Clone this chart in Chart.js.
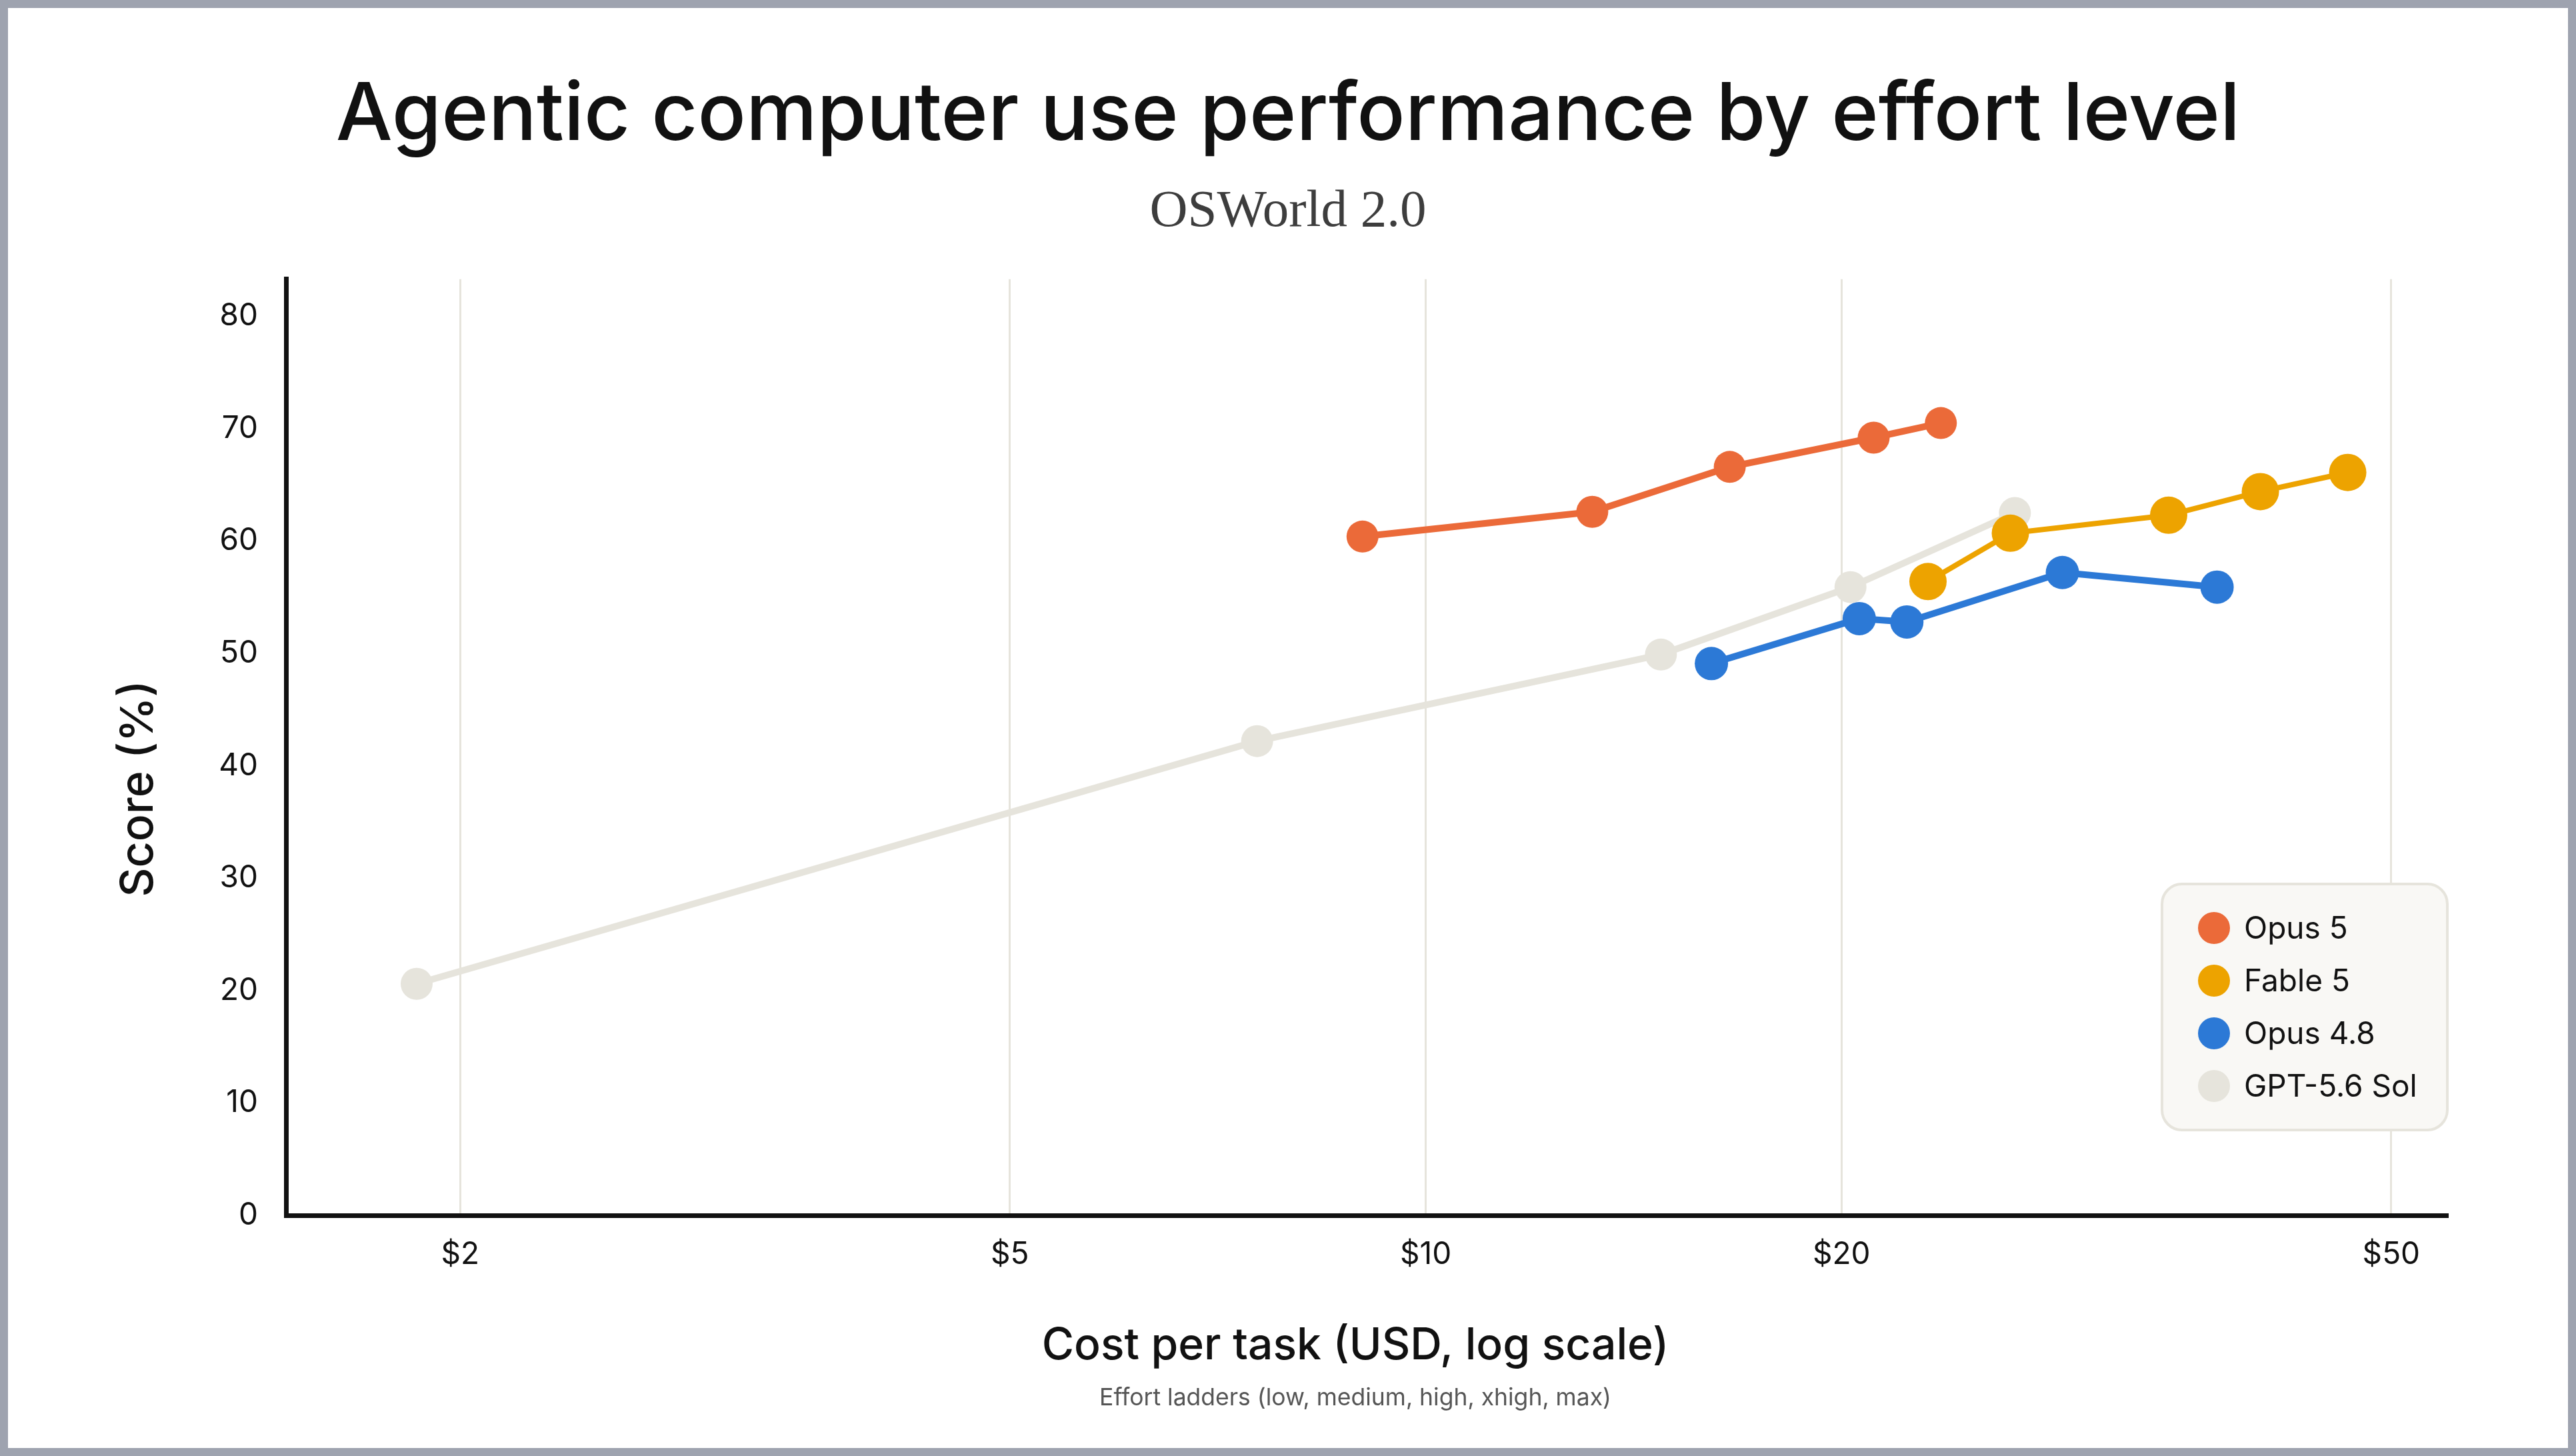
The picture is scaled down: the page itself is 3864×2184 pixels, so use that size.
<!DOCTYPE html>
<html>
<head>
<meta charset="utf-8">
<script src="https://cdn.jsdelivr.net/npm/chart.js"></script>
<style>
  html, body { margin: 0; padding: 0; background: #fff; }
  #frame {
    width: 3864px; height: 2184px; box-sizing: border-box;
    border: 12px solid #9EA3AF; background: #fff;
  }
  #frame canvas { display: block; }
</style>
</head>
<body>
<div id="frame"><canvas id="chart" width="3840" height="2160"></canvas></div>
<script>
// Agentic computer use - OSWorld 2.0, score vs cost per task
const seriesNames = ['Opus 5', 'Fable 5', 'Opus 4.8', 'GPT-5.6 Sol'];
const seriesColors = ['#EB6A39', '#EDA300', '#2C79D6', '#E6E4DC'];

const opus5Cost = [9.0, 13.2, 16.6, 21.1, 23.6];
const opus5Score = [60.4, 62.6, 66.6, 69.2, 70.5];
const fable5Cost = [23.1, 26.5, 34.5, 40.2, 46.5];
const fable5Score = [56.4, 60.7, 62.3, 64.4, 66.1];
const opus48Cost = [16.1, 20.6, 22.3, 28.9, 37.4];
const opus48Score = [49.1, 53.1, 52.8, 57.2, 55.9];
const gptCost = [1.86, 7.55, 14.8, 20.3, 26.7];
const gptScore = [20.6, 42.2, 49.9, 55.9, 62.5];

const xTicks = [2, 5, 10, 20, 50];
const yTicks = [0, 10, 20, 30, 40, 50, 60, 70, 80];

const FONT = 'Inter';
const INK = '#111111';

function pts(xs, ys) {
    return xs.map((x, i) => ({ x: x, y: ys[i] }));
}

function makeSet(i, xs, ys, radius, width) {
    return {
        label: seriesNames[i],
        data: pts(xs, ys),
        borderColor: seriesColors[i],
        backgroundColor: seriesColors[i],
        pointBackgroundColor: seriesColors[i],
        pointBorderWidth: 0,
        pointRadius: radius,
        pointHoverRadius: radius,
        borderWidth: width,
        tension: 0
    };
}

// rounded legend card in the lower right of the plot
const legendCard = {
    id: 'legendCard',
    afterDraw(chart) {
        const ctx = chart.ctx;
        const area = chart.chartArea;
        const w = 428, h = 369;
        const x = area.right - w, y = area.bottom - 128 - h;
        ctx.save();
        ctx.beginPath();
        ctx.roundRect(x, y, w, h, 30);
        ctx.fillStyle = '#F9F8F5';
        ctx.fill();
        ctx.lineWidth = 4;
        ctx.strokeStyle = '#E6E4DC';
        ctx.stroke();
        ctx.font = '400 46px ' + FONT;
        ctx.textBaseline = 'middle';
        ctx.textAlign = 'left';
        chart.data.datasets.forEach((ds, i) => {
            const cy = y + 66 + i * 79;
            ctx.beginPath();
            ctx.arc(x + 78, cy, 24, 0, Math.PI * 2);
            ctx.fillStyle = ds.borderColor;
            ctx.fill();
            ctx.fillStyle = INK;
            ctx.fillText(ds.label, x + 123, cy + 2);
        });
        ctx.restore();
    }
};

// axis titles and the small note under the x title
const axisText = {
    id: 'axisText',
    afterDraw(chart) {
        const ctx = chart.ctx;
        const area = chart.chartArea;
        const sx = chart.scales.x;
        const midX = (area.left + area.right) / 2 - 17;
        ctx.save();
        ctx.textAlign = 'center';
        ctx.textBaseline = 'middle';
        ctx.fillStyle = INK;
        ctx.font = '500 66px ' + FONT;
        ctx.fillText('Cost per task (USD, log scale)', midX, sx.bottom - 46);

        ctx.font = '400 35.5px ' + FONT;
        ctx.fillStyle = '#555555';
        ctx.fillText('Effort ladders (low, medium, high, xhigh, max)', midX, sx.bottom + 32);

        ctx.translate(area.left - 220, (area.top + area.bottom) / 2 + 62);
        ctx.rotate(-Math.PI / 2);
        ctx.font = '500 68px ' + FONT;
        ctx.fillStyle = INK;
        ctx.fillText('Score (%)', 0, 0);
        ctx.restore();
    }
};

new Chart(document.getElementById('chart').getContext('2d'), {
    type: 'line',
    data: {
        datasets: [
            makeSet(0, opus5Cost, opus5Score, 24, 10),
            makeSet(1, fable5Cost, fable5Score, 28, 8),
            makeSet(2, opus48Cost, opus48Score, 25, 10),
            makeSet(3, gptCost, gptScore, 24, 10)
        ]
    },
    options: {
        responsive: false,
        animation: false,
        devicePixelRatio: 1,
        layout: { padding: { top: 0, left: 181, right: 181, bottom: 107 } },
        plugins: {
            legend: { display: false },
            tooltip: { enabled: false },
            title: {
                display: true,
                text: 'Agentic computer use performance by effort level',
                color: INK,
                font: { family: FONT, size: 120, weight: '500' },
                padding: { top: 90, bottom: 0 }
            },
            subtitle: {
                display: true,
                text: 'OSWorld 2.0',
                color: '#3D3D3D',
                font: { family: 'Liberation Serif', size: 79, weight: '400' },
                padding: { top: 25, bottom: 53 }
            }
        },
        scales: {
            x: {
                type: 'logarithmic',
                min: 1.496,
                max: 54.9,
                afterBuildTicks: (scale) => { scale.ticks = xTicks.map(v => ({ value: v })); },
                afterFit: (scale) => { scale.height = 242; },
                ticks: {
                    color: INK,
                    padding: 32,
                    maxRotation: 0,
                    font: { family: FONT, size: 46 },
                    callback: (v) => '$' + v
                },
                grid: { color: '#E6E4DC', lineWidth: 3, drawTicks: false },
                border: { display: true, color: INK, width: 7 }
            },
            y: {
                min: 0,
                max: 83.3,
                afterBuildTicks: (scale) => { scale.ticks = yTicks.map(v => ({ value: v })); },
                afterFit: (scale) => { scale.width = 236; },
                ticks: {
                    color: INK,
                    padding: 42,
                    font: { family: FONT, size: 46 }
                },
                grid: { display: false, drawTicks: false },
                border: { display: true, color: INK, width: 7 }
            }
        }
    },
    plugins: [legendCard, axisText]
});
</script>
</body>
</html>
